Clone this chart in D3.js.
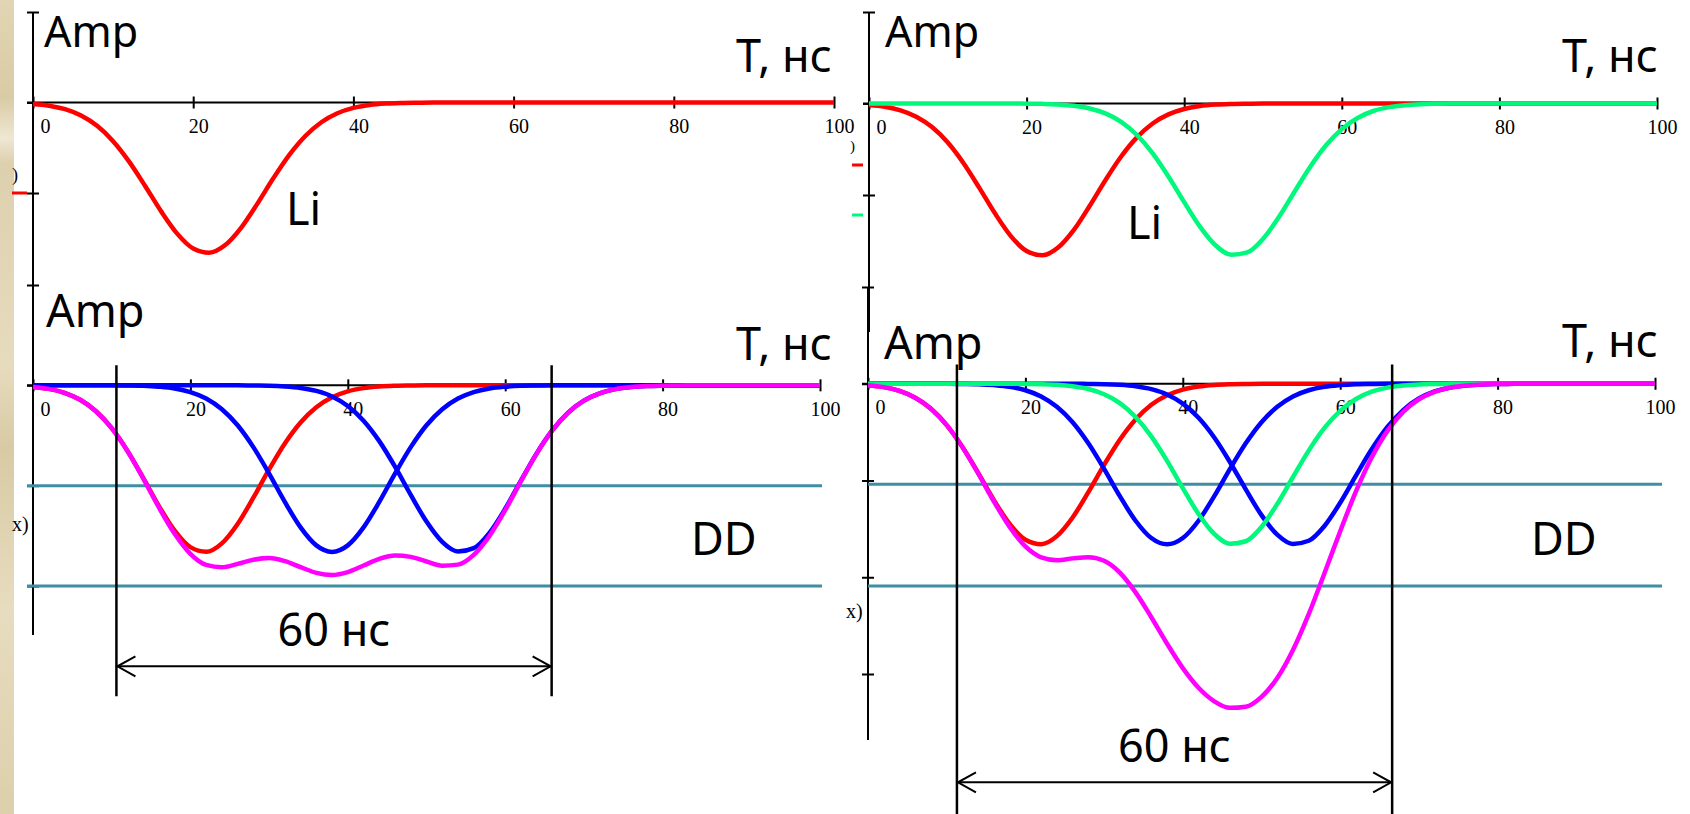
<!DOCTYPE html>
<html>
<head>
<meta charset="utf-8">
<script src="https://cdn.jsdelivr.net/npm/d3@7"></script>
<style>
  html, body { margin: 0; padding: 0; background: #ffffff; }
  svg { display: block; }
</style>
</head>
<body>
<svg id="chart" width="1690" height="814"></svg>
<script>
// ---------------- DATA ----------------
const times = [0,2,4,6,8,10,12,14,16,18,20,22,24,26,28,30,32,34,36,38,40,42,44,46,48,50,
               52,54,56,58,60,62,64,66,68,70,72,74,76,78,80,82,84,86,88,90,92,94,96,98,100];

// red pulse (Li)
const liRed = [-0.016,-0.035,-0.074,-0.144,-0.258,-0.427,-0.653,-0.922,-1.203,-1.449,-1.613,-1.659,-1.575,
               -1.382,-1.120,-0.838,-0.579,-0.370,-0.218,-0.119,-0.060,-0.028,-0.012,-0.005,-0.002,
               0,0,0,0,0,0,0,0,0,0,0,0,0,0,0,0,0,0,0,0,0,0,0,0,0,0];

// green pulse (delayed Li)
const liGreen = [0,0,0,0,0,0,0,0,0,0,-0.002,-0.004,-0.010,-0.025,-0.054,-0.108,-0.200,-0.344,-0.544,-0.797,
                 -1.078,-1.346,-1.552,-1.654,-1.628,-1.480,-1.243,-0.964,-0.691,-0.457,-0.280,-0.158,-0.082,
                 -0.040,-0.018,-0.007,-0.003,-0.001,0,0,0,0,0,0,0,0,0,0,0,0,0];

// blue pulses (DD)
const ddBlue1 = [0,0,0,0,0,0,-0.002,-0.005,-0.014,-0.031,-0.067,-0.131,-0.238,-0.398,-0.616,-0.880,-1.162,
                 -1.416,-1.595,-1.660,-1.595,-1.416,-1.162,-0.880,-0.616,-0.398,-0.238,-0.131,-0.067,-0.031,
                 -0.014,-0.005,-0.002,0,0,0,0,0,0,0,0,0,0,0,0,0,0,0,0,0,0];
const ddBlue2 = [0,0,0,0,0,0,0,0,0,0,0,0,0,0,-0.002,-0.004,-0.011,-0.026,-0.056,-0.111,-0.206,-0.352,-0.556,
                 -0.811,-1.092,-1.358,-1.560,-1.656,-1.623,-1.470,-1.230,-0.950,-0.678,-0.447,-0.272,-0.153,
                 -0.080,-0.038,-0.017,-0.007,-0.003,-0.001,0,0,0,0,0,0,0,0,0];

// magenta totals
const sumLeft = [-0.016,-0.035,-0.074,-0.144,-0.258,-0.427,-0.655,-0.927,-1.217,-1.480,-1.680,-1.790,-1.813,
                 -1.780,-1.738,-1.722,-1.752,-1.812,-1.869,-1.890,-1.861,-1.796,-1.730,-1.696,-1.710,-1.756,
                 -1.798,-1.787,-1.690,-1.501,-1.244,-0.955,-0.680,-0.447,-0.272,-0.153,-0.080,-0.038,-0.017,
                 -0.007,-0.003,-0.001,0,0,0,0,0,0,0,0,0];
const sumRight = [-0.016,-0.035,-0.074,-0.144,-0.258,-0.427,-0.655,-0.927,-1.217,-1.480,-1.682,-1.794,-1.823,
                  -1.805,-1.792,-1.830,-1.952,-2.156,-2.413,-2.687,-2.939,-3.142,-3.282,-3.350,-3.338,-3.236,
                  -3.041,-2.751,-2.381,-1.958,-1.524,-1.113,-0.762,-0.487,-0.290,-0.160,-0.083,-0.039,-0.017,
                  -0.007,-0.003,-0.001,0,0,0,0,0,0,0,0,0];

const xTicks = [0, 20, 40, 60, 80, 100];
const yTicksTop = [1, 0, -1];
const yTicksLeft = [1, 0, -1, -2];
const yTicksRight = [1, 0, -1, -2, -3];
const levelsLeft = [-1, -2];
const levelsRight = [-1.04, -2.09];
const spanLeft = [10.6, 65.9];
const spanRight = [11.3, 66.6];

const labelAmp = "Amp";
const labelT = "T, нс";
const labelLi = "Li";
const labelDD = "DD";
const labelSpan = "60 нс";

// ---------------- COLOURS / LAYOUT ----------------
const C = { red: "#ff0000", green: "#00f87c", blue: "#0000ff", mag: "#ff00ff", cyan: "#3f8fa3" };
const SANS = "'Noto Sans', 'Open Sans', sans-serif";
const SERIF = "'Liberation Serif', 'Times New Roman', serif";

const svg = d3.select("#chart");

// left decorative strip
const defs = svg.append("defs");
const grad = defs.append("linearGradient").attr("id", "strip").attr("x1", 0).attr("y1", 0).attr("x2", 0).attr("y2", 1);
[[0, "#e2d5b3"], [0.12, "#d9cba5"], [0.17, "#efe7d2"], [0.2, "#ddd0ae"], [0.45, "#e6dbbd"],
 [0.55, "#d8caa4"], [0.75, "#e7dcbf"], [1, "#dccfab"]].forEach(([o, c]) =>
  grad.append("stop").attr("offset", o).attr("stop-color", c));
svg.append("rect").attr("x", 0).attr("y", 0).attr("width", 14).attr("height", 814).attr("fill", "url(#strip)");

const panels = [
  { xr: [33, 834], yd: [1, -1], yr: [12, 193], yTicks: yTicksTop, axisY: [12, 285],
    series: [[liRed, C.red]], levels: [], span: null,
    texts: [[labelAmp, 44, 47, 43], [labelT, 736, 72, 45], [labelLi, 286, 225, 45]] },
  { xr: [869, 1657], yd: [1, -1], yr: [12, 195], yTicks: yTicksTop, axisY: [12, 332],
    series: [[liRed, C.red], [liGreen, C.green]], levels: [], span: null,
    texts: [[labelAmp, 885, 47, 43], [labelT, 1562, 72, 45], [labelLi, 1127, 239, 45]] },
  { xr: [33, 820], yd: [1, -2], yr: [285, 586], yTicks: yTicksLeft, axisY: [285, 635],
    series: [[liRed, C.red], [ddBlue1, C.blue], [ddBlue2, C.blue], [sumLeft, C.mag]],
    levels: levelsLeft, levelX: [27, 822], span: spanLeft, spanY: [0.2, -3.1], arrowV: -2.8,
    texts: [[labelAmp, 46, 327, 45], [labelT, 736, 360, 45], [labelDD, 691, 555, 45]] },
  { xr: [868, 1655], yd: [1, -3], yr: [287, 674], yTicks: yTicksRight, axisY: [287, 740],
    series: [[liRed, C.red], [ddBlue1, C.blue], [ddBlue2, C.blue], [liGreen, C.green], [sumRight, C.mag]],
    levels: levelsRight, levelX: [868, 1662], span: spanRight, spanY: [0.2, -4.6], arrowV: -4.12,
    texts: [[labelAmp, 884, 359, 45], [labelT, 1562, 357, 45], [labelDD, 1531, 555, 45]] }
];

panels.forEach(p => {
  const x = d3.scaleLinear().domain([0, 100]).range(p.xr);
  const y = d3.scaleLinear().domain(p.yd).range(p.yr);
  const g = svg.append("g");
  const x0 = x(0), y0 = y(0);

  // y axis
  g.append("line").attr("x1", x0).attr("x2", x0).attr("y1", p.axisY[0]).attr("y2", p.axisY[1])
    .attr("stroke", "#000").attr("stroke-width", 2);
  const ya = g.append("g").attr("transform", `translate(${x0 + 6},0)`)
    .call(d3.axisLeft(y).tickValues(p.yTicks).tickSize(12).tickFormat(""));
  ya.select(".domain").remove();
  ya.selectAll("line").attr("stroke", "#000").attr("stroke-width", 2);

  // x axis
  g.append("line").attr("x1", x0 - 6).attr("x2", x(100)).attr("y1", y0).attr("y2", y0)
    .attr("stroke", "#000").attr("stroke-width", 2);
  const xa = g.append("g").attr("transform", `translate(0,${y0 - 6})`)
    .call(d3.axisBottom(x).tickValues(xTicks).tickSize(12).tickPadding(10).tickFormat(d3.format("d")));
  xa.select(".domain").remove();
  xa.selectAll("line").attr("stroke", "#000").attr("stroke-width", 2);
  xa.selectAll("text").attr("font-family", SERIF).attr("font-size", 20).attr("fill", "#000")
    .attr("dx", d => d === 0 ? 12 : 5);

  // horizontal level lines
  p.levels.forEach(v => {
    g.append("line").attr("x1", p.levelX[0]).attr("x2", p.levelX[1]).attr("y1", y(v)).attr("y2", y(v))
      .attr("stroke", C.cyan).attr("stroke-width", 3);
  });

  // traces
  const line = d3.line().x((d, i) => x(times[i])).y(d => y(d)).curve(d3.curveMonotoneX);
  p.series.forEach(([vals, col]) => {
    g.append("path").attr("d", line(vals)).attr("fill", "none").attr("stroke", col)
      .attr("stroke-width", 4.5).attr("stroke-linejoin", "round");
  });

  // span markers with double arrow
  if (p.span) {
    p.span.forEach(t => {
      g.append("line").attr("x1", x(t)).attr("x2", x(t)).attr("y1", y(p.spanY[0])).attr("y2", y(p.spanY[1]))
        .attr("stroke", "#000").attr("stroke-width", 2.5);
    });
    const ay = y(p.arrowV);
    const xa1 = x(p.span[0]), xa2 = x(p.span[1]);
    g.append("line").attr("x1", xa1).attr("x2", xa2).attr("y1", ay).attr("y2", ay)
      .attr("stroke", "#000").attr("stroke-width", 2);
    g.append("path").attr("d", `M${xa1 + 19},${ay - 10}L${xa1 + 1},${ay}L${xa1 + 19},${ay + 10}`)
      .attr("fill", "none").attr("stroke", "#000").attr("stroke-width", 2);
    g.append("path").attr("d", `M${xa2 - 19},${ay - 10}L${xa2 - 1},${ay}L${xa2 - 19},${ay + 10}`)
      .attr("fill", "none").attr("stroke", "#000").attr("stroke-width", 2);
    g.append("text").attr("x", (xa1 + xa2) / 2).attr("y", ay - 20).attr("text-anchor", "middle")
      .attr("font-family", SANS).attr("font-size", 45).attr("fill", "#000").text(labelSpan);
  }

  // big labels
  p.texts.forEach(([t, tx, ty, fs]) => {
    g.append("text").attr("x", tx).attr("y", ty).attr("font-family", SANS).attr("font-size", fs)
      .attr("fill", "#000").text(t);
  });
});

// clipped remnants of hidden y-axis legends
svg.append("text").attr("x", 12).attr("y", 181).attr("font-family", SERIF).attr("font-size", 18).text(")");
svg.append("line").attr("x1", 12).attr("x2", 27).attr("y1", 193).attr("y2", 193).attr("stroke", C.red).attr("stroke-width", 3);
svg.append("text").attr("x", 850).attr("y", 151).attr("font-family", SERIF).attr("font-size", 15).text(")");
svg.append("line").attr("x1", 852).attr("x2", 863).attr("y1", 165).attr("y2", 165).attr("stroke", C.red).attr("stroke-width", 3);
svg.append("line").attr("x1", 852).attr("x2", 863).attr("y1", 215).attr("y2", 215).attr("stroke", C.green).attr("stroke-width", 3);
svg.append("text").attr("x", 12).attr("y", 531).attr("font-family", SERIF).attr("font-size", 20).text("x)");
svg.append("text").attr("x", 846).attr("y", 618).attr("font-family", SERIF).attr("font-size", 20).text("x)");
</script>
</body>
</html>
